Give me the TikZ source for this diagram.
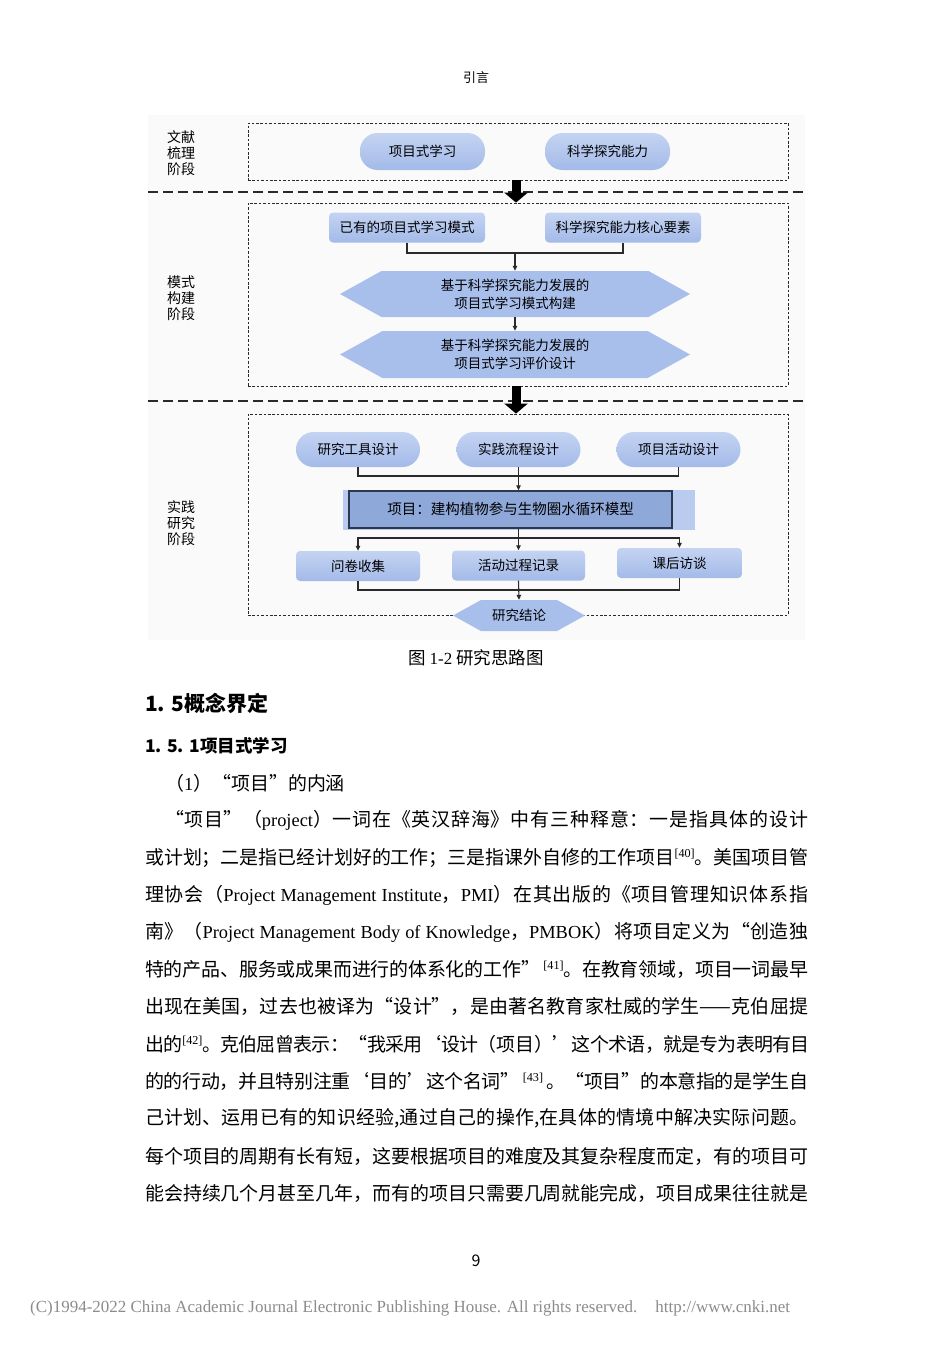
\documentclass[tikz,border=0pt]{standalone}
\usepackage{fontspec}
\setmainfont{Noto Sans CJK SC}
\newfontfamily\tm[Scale=0.97]{Liberation Serif}
\usetikzlibrary{arrows.meta,shapes.symbols}
\XeTeXlinebreaklocale "zh"
\XeTeXlinebreakskip=0pt plus 4pt minus 0.8pt
\XeTeXlinebreakpenalty=10000
\def\wLight{0.8pt}
\def\wRegular{1.1pt}
\def\wStrong{1.7pt}
\definecolor{cInk}{HTML}{2A2A2A}
\definecolor{cPill}{HTML}{A3BAE8}
\definecolor{cPillTop}{HTML}{C4D3F2}
\definecolor{cHex}{HTML}{A9BFEB}
\definecolor{cBand}{HTML}{B9CBEF}
\definecolor{cProj}{HTML}{8FA8DA}
\definecolor{cProjEdge}{HTML}{2E3750}
\definecolor{cFoot}{HTML}{8C8C8C}
\definecolor{cBack}{HTML}{FAFAFA}
\tikzset{
  arch/.style={font=\fontsize{13.5}{16}\selectfont},
  stage/.style={draw=cInk, line width=\wLight, dash pattern=on 2.6pt off 1.8pt, minimum width=540pt, inner sep=0pt},
  sep/.style={draw=cInk, line width=\wStrong, dash pattern=on 10pt off 5pt},
  lane/.style={font=\fontsize{14}{16}\selectfont, align=center, inner sep=0pt},
  pill/.style={rounded corners=17.5pt, top color=cPillTop, bottom color=cPill, minimum height=36pt, minimum width=124pt, inner sep=0pt},
  tile/.style={rounded corners=4pt, top color=cPillTop, bottom color=cPill, minimum height=30pt, inner sep=0pt},
  hexa/.style={signal, signal to=west and east, signal pointer angle=58, fill=cHex, inner sep=0pt, align=center, font=\fontsize{13.5}{18}\selectfont},
  link/.style={draw=cInk, line width=\wRegular},
  flow/.style={link, -{Triangle[length=5pt,width=4.5pt]}},
  bigflow/.style={draw=black, line width=9pt, -{Triangle[length=10pt,width=23pt]}},
  body/.style={anchor=west, inner sep=0pt, font=\fontsize{18.95}{24}\selectfont},
  fullline/.style={body, align=justify, text width=#1,
    execute at begin node={\tolerance=10000\parfillskip=0pt\relax}},
}
\newcommand{\refmark}[1]{\raisebox{7pt}{\tm\fontsize{12.5}{12}\selectfont[#1]}}

\begin{document}
\begin{tikzpicture}[arch, x=1pt, y=-1pt]
\useasboundingbox[fill=white] (0,0) rectangle (952,1347);
\node[font=\fontsize{13}{15}\selectfont] (head) at (476,78) {引言};
% figure 1-2
\fill[cBack] (148,115) rectangle (805,640);
\node[stage, minimum height=57pt]  (st1) at (518,151.5) {};
\node[stage, minimum height=183pt] (st2) at (518,294.5) {};
\node[stage, minimum height=201pt] (st3) at (518,514.5) {};
\draw[sep] (148,192) -- (803,192);
\draw[sep] (148,401) -- (803,401);
\draw[bigflow] (st1.south -| 516,0) -- (st2.north -| 516,0);
\draw[bigflow] (st2.south -| 516,0) -- (st3.north -| 516,0);
\node[lane] (lane1) at (181,153) {文献\\梳理\\阶段};
\node[lane] (lane2) at (181,298) {模式\\构建\\阶段};
\node[lane] (lane3) at (181,523) {实践\\研究\\阶段};

\node[pill, minimum width=125pt, minimum height=37pt] (pbl) at (422.5,151.5) {项目式学习};
\node[pill, minimum width=125pt, minimum height=37pt] (sci) at (607.5,151.5) {科学探究能力};

\node[tile, minimum width=156pt] (lit)  at (407,227.5) {已有的项目式学习模式};
\node[tile, minimum width=156pt] (core) at (623,227.5) {科学探究能力核心要素};
\node[hexa, minimum width=350pt, minimum height=46pt] (hexA) at (515,294) {基于科学探究能力发展的\\项目式学习模式构建};
\node[hexa, minimum width=350pt, minimum height=47pt] (hexB) at (515,354.5) {基于科学探究能力发展的\\项目式学习评价设计};
\coordinate (j1) at (515,253);
\draw[link] (lit.south) |- (j1) -| (core.south);
\draw[flow] (j1) -- (hexA.north);
\draw[flow] (hexA.south) -- (hexB.north);

\node[pill, minimum height=35pt] (tool)  at (358,449.5)   {研究工具设计};
\node[pill, minimum height=35pt] (prac)  at (518.5,449.5) {实践流程设计};
\node[pill, minimum height=35pt] (act)   at (678.5,449.5) {项目活动设计};
\node[fill=cBand, minimum width=352pt, minimum height=40pt, inner sep=0pt] (band) at (519,510) {};
\node[fill=cProj, draw=cProjEdge, line width=1.3pt, minimum width=323pt, minimum height=37pt,
  inner sep=0pt, font=\fontsize{14.5}{16}\selectfont] (proj) at (510.5,509.5) {项目：建构植物参与生物圈水循环模型};
\node[tile, minimum width=124pt] (quest) at (358,566)   {问卷收集};
\node[tile, minimum width=133pt] (rec)   at (518.5,565.5) {活动过程记录};
\node[tile, minimum width=125pt] (intv)  at (679.5,563) {课后访谈};
\node[hexa, minimum width=132pt, minimum height=31pt] (concl) at (519,615.5) {研究结论};
\coordinate (j2) at (518.5,476);
\coordinate (j3) at (518.5,538);
\coordinate (j4) at (518.5,590);
\draw[link] (tool.south) |- (j2) -| (act.south);
\draw[flow] (prac.south) -- (prac.south |- proj.north);
\draw[link] (proj.south -| j3) -- (j3);
\draw[flow] (j3) -| (quest.north);
\draw[flow] (j3) -| (intv.north);
\draw[flow] (j3) -- (rec.north);
\draw[link] (quest.south) |- (j4) -| (intv.south);
\draw[flow] (rec.south) -- (concl.north);

\node[font=\fontsize{17.5}{20}\selectfont] (cap) at (476,658) {图\ {\tm 1-2}\ 研究思路图};

% text of the page
\node[anchor=west, inner sep=0pt, font=\fontsize{21}{24}\selectfont\bfseries] (h1) at (145,703) {1. 5概念界定};
\node[anchor=west, inner sep=0pt, font=\fontsize{17.5}{20}\selectfont\bfseries] (h2) at (145,746) {1. 5. 1项目式学习};
\node[body] (ln0) at (165,783) {（{\tm 1}）“项目”的内涵};
\node[fullline=643pt] (ln1) at (165,820) {“项目”（{\tm project}）一词在《英汉辞海》中有三种释意：一是指具体的设计};
\node[fullline=663pt] (ln2) at (145,858) {或计划；二是指已经计划好的工作；三是指课外自修的工作项目\refmark{40}。美国项目管};
\node[fullline=663pt] (ln3) at (145,895) {理协会（{\tm Project Management Institute}，{\tm PMI}）在其出版的《项目管理知识体系指};
\node[fullline=663pt] (ln4) at (145,932) {南》（{\tm Project Management Body of Knowledge}，{\tm PMBOK}）将项目定义为“创造独};
\node[fullline=663pt] (ln5) at (145,969) {特的产品、服务或成果而进行的体系化的工作”\,\refmark{41}。在教育领域，项目一词最早};
\node[fullline=663pt] (ln6) at (145,1006) {出现在美国，过去也被译为“设计”，是由著名教育家杜威的学生——克伯屈提};
\node[fullline=663pt] (ln7) at (145,1044) {出的\refmark{42}。克伯屈曾表示：“我采用‘设计（项目）’这个术语，就是专为表明有目};
\node[fullline=663pt] (ln8) at (145,1081) {的的行动，并且特别注重‘目的’这个名词”\,\refmark{43}\ 。“项目”的本意指的是学生自};
\node[fullline=663pt] (ln9) at (145,1118) {己计划、运用已有的知识经验,通过自己的操作,在具体的情境中解决实际问题。};
\node[fullline=663pt] (ln10) at (145,1156) {每个项目的周期有长有短，这要根据项目的难度及其复杂程度而定，有的项目可};
\node[fullline=663pt] (ln11) at (145,1193) {能会持续几个月甚至几年，而有的项目只需要几周就能完成，项目成果往往就是};

\node[font=\fontsize{16}{18}\selectfont] (pageno) at (476,1261) {9};
\node[anchor=west, inner sep=0pt, text=cFoot, font=\tm\fontsize{17.5}{18}\selectfont] (foot) at (30,1308)
  {(C)1994-2022 China Academic Journal Electronic Publishing House. All rights reserved.\hspace{18pt}http://www.cnki.net};
\end{tikzpicture}
\end{document}
